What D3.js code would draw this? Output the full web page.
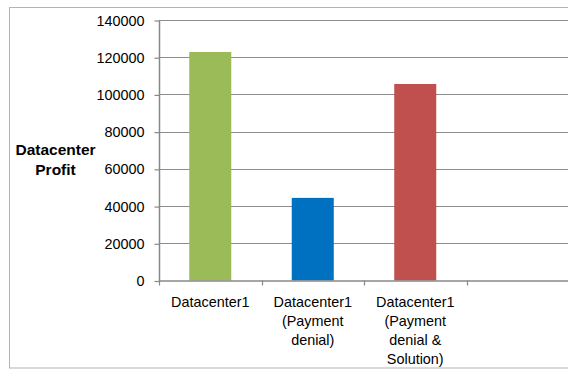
<!DOCTYPE html>
<html>
<head>
<meta charset="utf-8">
<script src="https://cdn.jsdelivr.net/npm/d3@7"></script>
<style>
  html, body { margin: 0; padding: 0; background: #fff; }
  svg { display: block; }
  text { font-family: "Liberation Sans", Arial, sans-serif; fill: #000; }
</style>
</head>
<body>
<svg id="chart" width="568" height="371"></svg>
<script>
// Category labels (line breaks mark the wrapped lines under each bar)
const categories = [
  "Datacenter1",
  "Datacenter1\n(Payment\ndenial)",
  "Datacenter1\n(Payment\ndenial &\nSolution)",
  ""
];
const profits = [122800, 44400, 105600, null];
const barColors = ["#9BBB59", "#0070C0", "#C0504D", "none"];
const yTicks = [0, 20000, 40000, 60000, 80000, 100000, 120000, 140000];
const yTitle = ["Datacenter", "Profit"];

const svg = d3.select("#chart");
const plot = { left: 159, right: 569, top: 20, bottom: 280.5 };

// Outer chart frame
svg.append("rect")
  .attr("x", 9.5).attr("y", 7.5)
  .attr("width", 600).attr("height", 360.5)
  .attr("fill", "none").attr("stroke", "#b3b3b3").attr("stroke-width", 1);

const x = d3.scaleBand()
  .domain(categories)
  .range([plot.left, plot.right])
  .paddingInner(0.59)
  .paddingOuter(0.295);

const y = d3.scaleLinear()
  .domain([0, 140000])
  .range([plot.bottom, plot.top]);

// Horizontal gridlines
svg.append("g")
  .selectAll("line")
  .data(yTicks.filter(d => d > 0))
  .join("line")
  .attr("x1", plot.left).attr("x2", plot.right)
  .attr("y1", d => Math.round(y(d)) + 0.5)
  .attr("y2", d => Math.round(y(d)) + 0.5)
  .attr("stroke", "#8c8c8c").attr("stroke-width", 1.2);

// Bars
svg.append("g")
  .selectAll("rect")
  .data(categories.map((c, i) => ({ c, v: profits[i], color: barColors[i] }))
    .filter(d => d.v != null))
  .join("rect")
  .attr("x", d => x(d.c))
  .attr("width", x.bandwidth())
  .attr("y", d => y(d.v))
  .attr("height", d => y(0) - y(d.v))
  .attr("fill", d => d.color);

// Y axis
const yAxis = d3.axisLeft(y)
  .tickValues(yTicks)
  .tickSize(5)
  .tickPadding(10)
  .tickFormat(d3.format("d"));

const gy = svg.append("g")
  .attr("transform", `translate(${plot.left + 0.5},0.5)`)
  .call(yAxis);
gy.select(".domain").attr("stroke", "#888").attr("stroke-width", 1.5)
  .attr("d", `M0,${plot.top}V${plot.bottom}`);
gy.selectAll(".tick line").attr("stroke", "#888").attr("stroke-width", 1.2);
gy.selectAll(".tick text")
  .style("font-size", "14.4px")
  .attr("fill", "#000");

// X axis: baseline with tick marks at the category boundaries
const step = x.step();
const bounds = d3.range(categories.length + 1).map(i => plot.left + i * step);
const gx = svg.append("g");
gx.append("line")
  .attr("x1", plot.left).attr("x2", plot.right)
  .attr("y1", plot.bottom + 0.5).attr("y2", plot.bottom + 0.5)
  .attr("stroke", "#888").attr("stroke-width", 1.5);
gx.selectAll("line.tk")
  .data(bounds)
  .join("line")
  .attr("class", "tk")
  .attr("x1", d => Math.round(d) + 0.5).attr("x2", d => Math.round(d) + 0.5)
  .attr("y1", plot.bottom).attr("y2", plot.bottom + 5)
  .attr("stroke", "#888").attr("stroke-width", 1.2);

// Category labels, wrapped over several lines
gx.selectAll("text.cat")
  .data(categories)
  .join("text")
  .attr("class", "cat")
  .attr("text-anchor", "middle")
  .style("font-size", "14.4px")
  .each(function (d) {
    const t = d3.select(this);
    const cx = x(d) + x.bandwidth() / 2;
    d.split("\n").forEach((line, i) => {
      t.append("tspan")
        .attr("x", cx)
        .attr("y", 306.5 + i * 19.3)
        .text(line);
    });
  });

// Y axis title
svg.append("text")
  .attr("text-anchor", "middle")
  .style("font-size", "15.5px")
  .style("font-weight", "bold")
  .selectAll("tspan")
  .data(yTitle)
  .join("tspan")
  .attr("x", 55.5)
  .attr("y", (d, i) => 155 + i * 20)
  .text(d => d);
</script>
</body>
</html>
